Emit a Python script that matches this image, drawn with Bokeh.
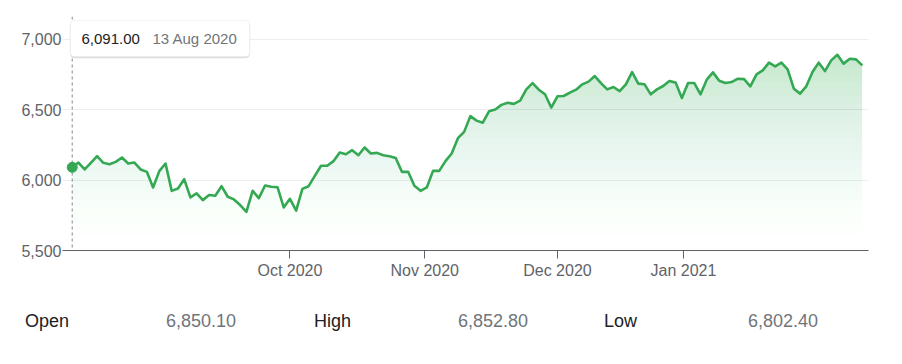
import numpy as np
import pandas as pd
from bokeh.plotting import figure
from bokeh.layouts import column
from bokeh.models import (Range1d, FixedTicker, NumeralTickFormatter, Span,
                          BoxAnnotation, Label, Div)
from bokeh.embed import file_html
from bokeh.resources import INLINE

# ---------------- data ----------------
start_date = "2020-08-13"
holidays = ["2020-12-25", "2020-12-28", "2021-01-01"]

values = [
    6091, 6125, 6076, 6123, 6170, 6123, 6113, 6130, 6161, 6118,
    6125, 6076, 6059, 5948, 6064, 6118, 5924, 5941, 6007, 5877,
    5906, 5858, 5894, 5889, 5957, 5882, 5863, 5823, 5775, 5924,
    5872, 5962, 5953, 5950, 5806, 5867, 5784, 5938, 5957, 6030,
    6102, 6102, 6135, 6196, 6184, 6213, 6177, 6232, 6189, 6194,
    6177, 6170, 6158, 6059, 6059, 5960, 5924, 5948, 6066, 6066,
    6135, 6189, 6298, 6343, 6455, 6423, 6408, 6489, 6502, 6535,
    6550, 6542, 6565, 6645, 6690, 6643, 6610, 6516, 6596, 6598,
    6622, 6643, 6681, 6700, 6740, 6690, 6645, 6662, 6633, 6681,
    6768, 6686, 6681, 6610, 6645, 6669, 6704, 6693, 6584, 6690,
    6690, 6610, 6714, 6766, 6706, 6690, 6697, 6721, 6718, 6667,
    6752, 6780, 6835, 6809, 6835, 6787, 6650, 6615, 6667, 6768,
    6835, 6775, 6851, 6891, 6828, 6863, 6858, 6816,
]

tick_months = ["2020-10-01", "2020-11-01", "2020-12-01", "2021-01-01"]
tick_labels = ["Oct 2020", "Nov 2020", "Dec 2020", "Jan 2021"]
y_ticks = [5500, 6000, 6500, 7000]

tooltip_value = "6,091.00"
tooltip_date = "13 Aug 2020"

stat_names = ["Open", "High", "Low"]
stat_values = ["6,850.10", "6,852.80", "6,802.40"]

# ---------------- derived ----------------
dates = pd.bdate_range(start=start_date, periods=len(values), freq="C",
                       holidays=holidays)
idx = np.arange(len(values), dtype=float)
vals = np.array(values, dtype=float)
d_ns = dates.values.astype("datetime64[ns]").astype(np.int64)
m_ns = pd.to_datetime(tick_months).values.astype("datetime64[ns]").astype(np.int64)
tick_pos = [round(float(t), 4) for t in np.interp(m_ns, d_ns, idx)]

# ---------------- layout ----------------
W, H1, H2 = 890, 290, 60
X0, X1 = -1.56, 128.0
Y0, Y1 = 5500, 7163
FL, FR, FT, FB = 62, 868, 16, 250   # frame edges in pixels


def dx(px):
    return X0 + (px - FL) * (X1 - X0) / (FR - FL)


def dy(py):
    return Y0 + (FB - py) * (Y1 - Y0) / (FB - FT)


GREEN = "#34a853"
FONT = "Liberation Sans"

p = figure(width=W, height=H1, output_backend="svg", toolbar_location=None,
           x_range=Range1d(X0, X1), y_range=Range1d(Y0, Y1),
           min_border_left=FL, min_border_right=W - FR,
           min_border_top=FT, min_border_bottom=H1 - FB)
p.outline_line_color = None
p.background_fill_color = "white"
p.border_fill_color = "white"

# gradient-like fill under the line (stacked translucent bands)
levels = np.arange(5500, 6950, 50)
top_alpha = 0.25


def target(v):
    return top_alpha * np.clip((v - 5500) / 1400.0, 0, 1) ** 1.6


prev = 0.0
for lv in levels:
    nxt = target(lv + 50)
    a = 1 - (1 - nxt) / (1 - prev)
    prev = nxt
    p.varea(x=idx, y1=np.full_like(vals, lv), y2=np.maximum(vals, lv),
            fill_color=GREEN, fill_alpha=float(a))

# hover guide line
span = Span(location=idx[0], dimension="height", line_color="#80868b",
            line_width=1, line_dash="3 3", level="underlay")
p.add_layout(span)

p.line(idx, vals, line_color=GREEN, line_width=2.6, line_join="round")
p.scatter([idx[0]], [vals[0]], size=10, fill_color=GREEN, line_color=GREEN)

# axes
p.xgrid.grid_line_color = None
p.ygrid.grid_line_color = "#eeeeee"
p.ygrid.ticker = FixedTicker(ticks=y_ticks)

xa = p.xaxis[0]
xa.ticker = FixedTicker(ticks=tick_pos)
xa.major_label_overrides = {t: l for t, l in zip(tick_pos, tick_labels)}
xa.axis_line_color = "#5f6368"
xa.major_tick_line_color = "#5f6368"
xa.major_tick_out = 8
xa.major_tick_in = 0
xa.minor_tick_line_color = None
xa.major_label_standoff = 3
xa.major_label_text_font = FONT
xa.major_label_text_font_size = "16px"
xa.major_label_text_color = "#5f6368"

ya = p.yaxis[0]
ya.ticker = FixedTicker(ticks=y_ticks)
ya.formatter = NumeralTickFormatter(format="0,0")
ya.axis_line_color = None
ya.major_tick_line_color = None
ya.minor_tick_line_color = None
ya.major_tick_out = 0
ya.major_tick_in = 0
ya.major_label_standoff = 1
ya.major_label_text_font = FONT
ya.major_label_text_font_size = "16px"
ya.major_label_text_color = "#5f6368"

# tooltip box
p.add_layout(BoxAnnotation(left=dx(69), right=dx(250), top=dy(19.5), bottom=dy(57.5),
                           fill_color="#000000", fill_alpha=0.05, line_color=None,
                           border_radius=5))
p.add_layout(BoxAnnotation(left=dx(70), right=dx(249), top=dy(20.5), bottom=dy(58),
                           fill_color="#000000", fill_alpha=0.08, line_color=None,
                           border_radius=4))
p.add_layout(BoxAnnotation(left=dx(70), right=dx(249), top=dy(20), bottom=dy(56),
                           fill_color="white", fill_alpha=1.0, line_color="#e6e6e6",
                           line_width=1, border_radius=4))
p.add_layout(Label(x=dx(81), y=dy(38), text=tooltip_value, text_font=FONT,
                   text_font_size="15px", text_color="#202124",
                   text_baseline="middle", text_align="left"))
p.add_layout(Label(x=dx(152), y=dy(38), text=tooltip_date, text_font=FONT,
                   text_font_size="15px", text_color="#70757a",
                   text_baseline="middle", text_align="left"))

# stats row (HTML strip below the chart)
name_px = [25, 314, 604]
val_px = [166, 458, 748]
row_center = 321 - H1
spans = []
for nm, vv, npx, vpx in zip(stat_names, stat_values, name_px, val_px):
    spans.append(
        f'<span style="position:absolute;left:{npx}px;top:{row_center - 10}px;'
        f'line-height:20px;color:#202124">{nm}</span>')
    spans.append(
        f'<span style="position:absolute;left:{vpx}px;top:{row_center - 10}px;'
        f'line-height:20px;color:#70757a">{vv}</span>')
html = (f'<div style="position:relative;width:{W}px;height:{H2}px;'
        f"font-family:'{FONT}';font-size:18px\">" + "".join(spans) + "</div>")
stats = Div(text=html, width=W, height=H2, margin=0)

layout = column(p, stats, spacing=0)
open("out.html", "w").write(file_html(layout, INLINE))
